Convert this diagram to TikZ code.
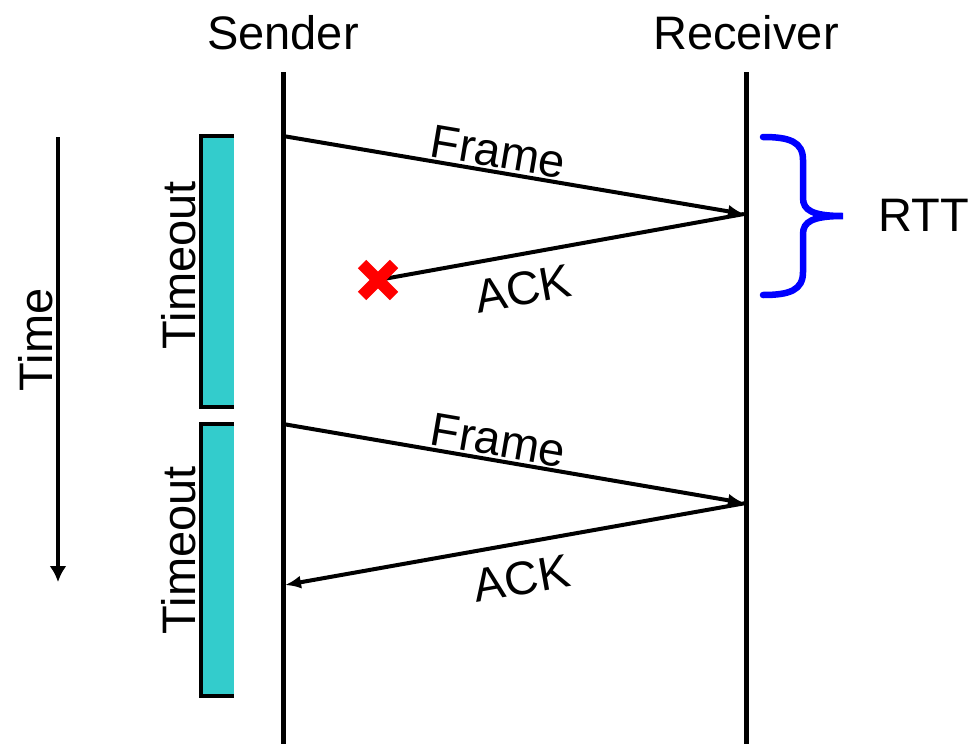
\documentclass[tikz,border=0pt]{standalone}
\usepackage{fontspec}
\setmainfont{Liberation Sans}
\usetikzlibrary{arrows.meta,calc}

\definecolor{timeoutfill}{HTML}{33CCCC}
\definecolor{rttblue}{HTML}{0000FF}

\tikzset{
  lbl/.style={font=\fontsize{47}{56}\selectfont, inner sep=1pt},
  lifeline/.style={line width=5pt},
  msg/.style={line width=4pt, -{Latex[length=16pt,width=13pt]}},
  timer/.style={fill=timeoutfill},
}

\begin{document}
\begin{tikzpicture}[x=1pt,y=-1pt]
  \useasboundingbox (0,0) rectangle (973,744);

  % sender and receiver
  \node[lbl, anchor=base] (sender) at (283,49) {Sender};
  \node[lbl, anchor=base] (receiver) at (746,49) {Receiver};
  \coordinate (sTop) at (283,72);
  \coordinate (sBot) at (283,744);
  \coordinate (rTop) at (746,72);
  \coordinate (rBot) at (746,744);
  \draw[lifeline] (sTop) -- (sBot);
  \draw[lifeline] (rTop) -- (rBot);

  % time axis
  \coordinate (tTop) at (58,137);
  \coordinate (tBot) at (58,582);
  \draw[line width=3.5pt, -{Latex[length=16pt,width=17pt]}] (tTop) -- (tBot);
  \node[lbl, anchor=base, rotate=90] (time) at (52,340) {Time};

  % timeout bars
  \fill[timer] (201,136) rectangle (234,407);
  \draw[line width=4.5pt] (234,136) -- (201,136) -- (201,407) -- (234,407);
  \node[lbl, anchor=base, rotate=90] (timeout1) at (195,265) {Timeout};
  \fill[timer] (201,424) rectangle (234,696);
  \draw[line width=4.5pt] (234,424) -- (201,424) -- (201,696) -- (234,696);
  \node[lbl, anchor=base, rotate=90] (timeout2) at (195,550) {Timeout};

  % first exchange, ACK lost
  \coordinate (f1s) at (283,136);
  \coordinate (f1r) at (744,214);
  \coordinate (lost) at (378,280);
  \draw[msg] (f1s) -- node[lbl, sloped, above=1pt, pos=0.46] (frame1) {Frame} (f1r);
  \draw[line width=4pt] (f1r) -- node[lbl, sloped, below=15pt, pos=0.62] (ack1) {ACK} (lost);
  \draw[red, line width=12pt] ($(lost)+(-16,-16)$) -- ($(lost)+(16,16)$);
  \draw[red, line width=12pt] ($(lost)+(-16,16)$) -- ($(lost)+(16,-16)$);

  % second exchange
  \coordinate (f2s) at (283,424);
  \coordinate (f2r) at (744,503);
  \coordinate (a2s) at (746,503);
  \coordinate (a2r) at (285,585);
  \draw[msg] (f2s) -- node[lbl, sloped, above=1pt, pos=0.46] (frame2) {Frame} (f2r);
  \draw[msg] (a2s) -- node[lbl, sloped, below=15pt, pos=0.5] (ack2) {ACK} (a2r);

  % round trip time
  \coordinate (bTop) at (763,137);
  \coordinate (bTip) at (843,216);
  \coordinate (bBot) at (763,295);
  \draw[rttblue, line width=6.5pt, line cap=round]
    (bTop) .. controls (790,137) and (803,142) .. (803,160) -- (803,198)
    .. controls (803,210) and (812,216) .. (bTip)
    .. controls (812,216) and (803,222) .. (803,234) -- (803,272)
    .. controls (803,290) and (790,295) .. (bBot);
  \node[lbl, anchor=base] (rtt) at (924,231) {RTT};
\end{tikzpicture}
\end{document}
